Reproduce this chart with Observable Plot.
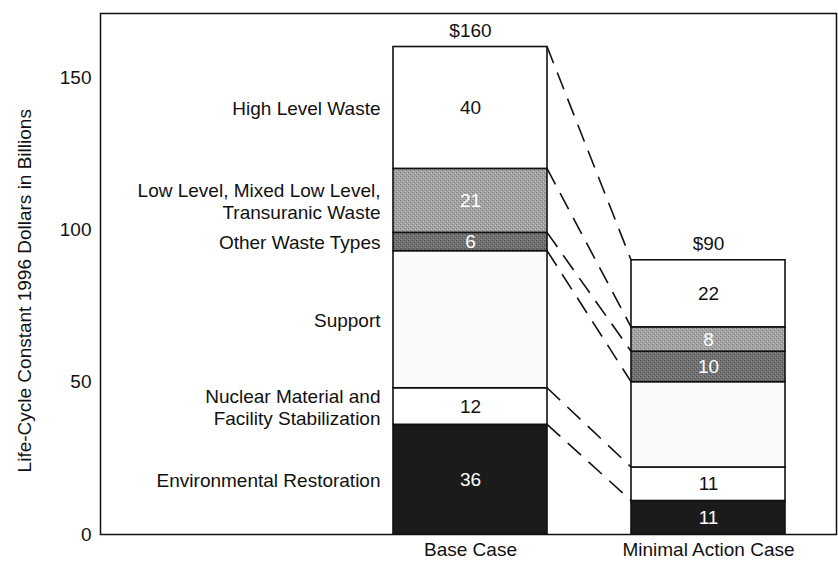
<!DOCTYPE html>
<html>
<head>
<meta charset="utf-8">
<script src="https://cdn.jsdelivr.net/npm/d3@7"></script>
<script src="https://cdn.jsdelivr.net/npm/@observablehq/plot@0.6"></script>
<style>
  html, body { margin: 0; padding: 0; background: #fff; }
  #chart svg { display: block; }
</style>
</head>
<body>
<div id="chart"></div>
<script>
// Cost cases and the cost categories, listed from the bottom of each stack upward
const cases = ["Base Case", "Minimal Action Case"];
const categories = [
  "Environmental Restoration",
  "Nuclear Material and Facility Stabilization",
  "Support",
  "Other Waste Types",
  "Low Level, Mixed Low Level, Transuranic Waste",
  "High Level Waste"
];
const categoryLabels = [
  "Environmental Restoration",
  "Nuclear Material and\nFacility Stabilization",
  "Support",
  "Other Waste Types",
  "Low Level, Mixed Low Level,\nTransuranic Waste",
  "High Level Waste"
];
// Life-cycle cost in billions of constant 1996 dollars
const baseCase = [36, 12, 45, 6, 21, 40];
const minimalActionCase = [11, 11, 28, 10, 8, 22];
const totalLabels = ["$160", "$90"];
const yTicks = [0, 50, 100, 150];
const yLabel = "Life-Cycle Constant 1996 Dollars in Billions";

// Segment appearance (halftone-like textures)
const fillFor = {
  "Environmental Restoration": "#1b1b1b",
  "Nuclear Material and Facility Stabilization": "#ffffff",
  "Support": "url(#tex-support)",
  "Other Waste Types": "url(#tex-other)",
  "Low Level, Mixed Low Level, Transuranic Waste": "url(#tex-low)",
  "High Level Waste": "#ffffff"
};
const whiteText = new Set([
  "Environmental Restoration",
  "Other Waste Types",
  "Low Level, Mixed Low Level, Transuranic Waste"
]);
const unlabeled = new Set(["Support"]);
const FONT = 19;

// Build stacked segments
const series = [baseCase, minimalActionCase];
const rows = [];
cases.forEach((c, i) => {
  let acc = 0;
  categories.forEach((cat, j) => {
    const v = series[i][j];
    rows.push({case: c, category: cat, label: categoryLabels[j], value: v, y1: acc, y2: acc + v, mid: acc + v / 2});
    acc += v;
  });
});
const totals = cases.map((c, i) => ({case: c, total: d3.sum(series[i]), label: totalLabels[i]}));
const baseRows = rows.filter(d => d.case === cases[0]);
const minRows = rows.filter(d => d.case === cases[1]);
const connectorsData = categories.map((cat, j) => ({from: baseRows[j].y2, to: minRows[j].y2}));

// Texture definitions
function textures() {
  const defs = d3.create("svg:defs");
  const tex = (id, bg, dots) => {
    const p = defs.append("pattern").attr("id", id)
      .attr("width", 4).attr("height", 4).attr("patternUnits", "userSpaceOnUse");
    p.append("rect").attr("width", 4).attr("height", 4).attr("fill", bg);
    for (const [x, y, c] of dots) p.append("rect").attr("x", x).attr("y", y).attr("width", 1).attr("height", 1).attr("fill", c);
  };
  tex("tex-low", "#a2a2a2", [[0, 0, "#7c7c7c"], [2, 2, "#7c7c7c"], [1, 3, "#c6c6c6"], [3, 1, "#c6c6c6"]]);
  tex("tex-other", "#707070", [[0, 0, "#505050"], [2, 2, "#505050"], [1, 3, "#929292"], [3, 1, "#929292"]]);
  tex("tex-support", "#fdfdfd", [[0, 0, "#ededed"], [2, 2, "#f3f3f3"]]);
  return defs.node();
}

// Dashed connectors from each boundary of the first stack to the matching one of the second
function connectors(index, scales) {
  const {x, y} = scales;
  const bw = x.bandwidth();
  const x0 = x(cases[0]) + bw;
  const x1 = x(cases[1]);
  const g = d3.create("svg:g")
    .attr("stroke", "#111").attr("stroke-width", 1.6)
    .attr("stroke-dasharray", "18,10").attr("fill", "none");
  for (const d of connectorsData) {
    g.append("line").attr("x1", x0).attr("y1", y(d.from)).attr("x2", x1).attr("y2", y(d.to));
  }
  return g.node();
}

const plot = Plot.plot({
  width: 838,
  height: 561,
  marginLeft: 100,
  marginRight: 2,
  marginTop: 13,
  marginBottom: 27,
  style: {fontFamily: "'Liberation Sans', Arial, Helvetica, sans-serif", fontSize: FONT + "px", color: "#111", background: "#fff"},
  x: {domain: cases, paddingInner: 0.353, paddingOuter: 0.7226, align: 0.852, label: null},
  y: {domain: [0, 171], label: null},
  color: {type: "identity"},
  marks: [
    textures,
    Plot.frame({stroke: "#111", strokeWidth: 1.5}),
    Plot.axisY(yTicks, {tickSize: 0, tickPadding: 9, label: null, fontSize: FONT}),
    Plot.axisX({tickSize: 0, tickPadding: 8, label: null, fontSize: FONT}),
    Plot.text([yLabel], {
      frameAnchor: "left", y: [d3.max(totals, d => d.total) / 2], text: d => d,
      textAnchor: "middle", rotate: -90, dx: -76, fontSize: FONT
    }),
    Plot.rectY(rows, {x: "case", y1: "y1", y2: "y2", fill: d => fillFor[d.category], stroke: "#111", strokeWidth: 1.6}),
    connectors,
    Plot.text(rows.filter(d => !unlabeled.has(d.category)), {
      x: "case", y: "mid", text: d => String(d.value),
      fill: d => whiteText.has(d.category) ? "#fff" : "#111", fontSize: FONT
    }),
    Plot.text(baseRows, {
      x: "case", y: "mid", text: "label", textAnchor: "end", dx: -90,
      lineHeight: 1.16, fontSize: FONT, fill: "#111"
    }),
    Plot.text(totals, {x: "case", y: "total", text: "label", dy: -16, fontSize: FONT, fill: "#111"})
  ]
});
document.getElementById("chart").append(plot);
</script>
</body>
</html>
